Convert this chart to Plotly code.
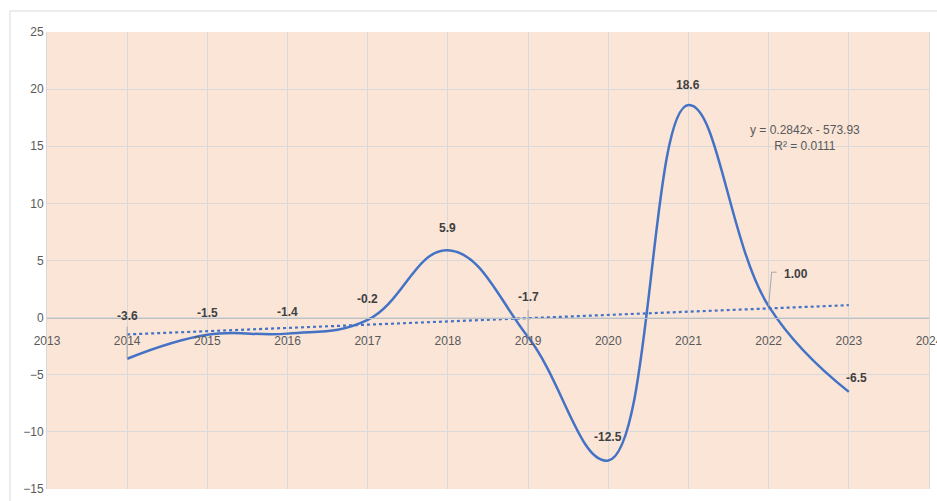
import numpy as np
import plotly.graph_objects as go

# Annual values
years = [2014, 2015, 2016, 2017, 2018, 2019, 2020, 2021, 2022, 2023]
values = [-3.6, -1.5, -1.4, -0.2, 5.9, -1.7, -12.5, 18.6, 1.00, -6.5]
label_text = ["-3.6", "-1.5", "-1.4", "-0.2", "5.9", "-1.7", "-12.5", "18.6", "1.00", "-6.5"]

# Label offsets in pixels (dx, dy) and leader-line lengths (0 = none)
label_dx = [0, 0, 0, 0, 0, 0, 0, 0, 27, 8]
label_dy = [43, 22, 22, 21, 22, 40, 23, 20, 32, 14]
leader_len = [32, 0, 0, 0, 0, 27, 0, 0, 34, 0]

y_ticks = [-15, -10, -5, 0, 5, 10, 15, 20, 25]
x_ticks = list(range(2013, 2025))

LINE = "#4472C4"
TEXT = "#595959"
LABEL = "#404040"
GRID = "#D9D9D9"
FONT = "Liberation Sans Narrow, Liberation Sans, Arial"

# Linear trend fitted to the series
slope, intercept = np.polyfit(years, values, 1)
fit = np.polyval([slope, intercept], years)
ss_res = np.sum((np.array(values) - fit) ** 2)
ss_tot = np.sum((np.array(values) - np.mean(values)) ** 2)
r2 = 1 - ss_res / ss_tot

fig = go.Figure()
fig.add_trace(go.Scatter(
    x=years, y=values, mode="lines",
    line=dict(color=LINE, width=2.5, shape="spline", smoothing=1.2),
    hoverinfo="x+y", showlegend=False,
))
fig.add_trace(go.Scatter(
    x=[years[0], years[-1]],
    y=[slope * years[0] + intercept, slope * years[-1] + intercept],
    mode="lines", line=dict(color=LINE, width=2.2, dash="dot"),
    showlegend=False, hoverinfo="skip",
))

annotations = []
shapes = [
    # outer chart border
    dict(type="rect", xref="paper", yref="paper",
         x0=-0.042, x1=1.02, y0=-0.05, y1=1.046,
         line=dict(color=GRID, width=1), layer="below"),
]
for x, v, t, dx, dy, ll in zip(years, values, label_text, label_dx, label_dy, leader_len):
    annotations.append(dict(
        x=x, y=v, xref="x", yref="y", text=f"<b>{t}</b>",
        showarrow=False, xshift=dx, yshift=dy,
        font=dict(family=FONT, size=12, color=LABEL),
    ))
    if ll:
        # thin leader line from the point up toward its label
        shapes.append(dict(
            type="line", xref="x", yref="y",
            xsizemode="pixel", ysizemode="pixel",
            xanchor=x, yanchor=v,
            x0=0, x1=(3 if dx else 0), y0=0, y1=ll,
            line=dict(color="#A6A6A6", width=1),
        ))
        if dx:
            shapes.append(dict(
                type="line", xref="x", yref="y",
                xsizemode="pixel", ysizemode="pixel",
                xanchor=x, yanchor=v,
                x0=3, x1=8, y0=ll, y1=ll,
                line=dict(color="#A6A6A6", width=1),
            ))

sign = "-" if intercept < 0 else "+"
annotations.append(dict(
    x=2022.45, y=15.75, xref="x", yref="y",
    text=f"y = {slope:.4f}x {sign} {abs(intercept):.2f}<br>R² = {r2:.4f}",
    showarrow=False, align="center",
    font=dict(family=FONT, size=12, color=TEXT),
))

fig.update_layout(
    width=937, height=501,
    margin=dict(l=47, r=8, t=32, b=12),
    paper_bgcolor="white",
    plot_bgcolor="#FAE5D7",
    annotations=annotations,
    shapes=shapes,
    font=dict(family=FONT, size=12, color=TEXT),
)
fig.update_xaxes(
    range=[2013, 2024], tickmode="array", tickvals=x_ticks,
    showgrid=True, gridcolor=GRID, gridwidth=1,
    anchor="free", position=(0 + 15) / 40,
    showline=True, linecolor="#BFBFBF", linewidth=1,
    ticks="", zeroline=False, ticklabelstandoff=12,
    ticklabeloverflow="allow", automargin=False,
    tickfont=dict(family=FONT, size=12, color=TEXT),
)
fig.update_yaxes(
    range=[-15, 25], tickmode="array", tickvals=y_ticks,
    showgrid=True, gridcolor=GRID, gridwidth=1,
    zeroline=False, showline=True, linecolor=GRID, mirror=True,
    ticks="", automargin=False,
    tickfont=dict(family=FONT, size=12, color=TEXT),
)

fig.write_html("out.html")
